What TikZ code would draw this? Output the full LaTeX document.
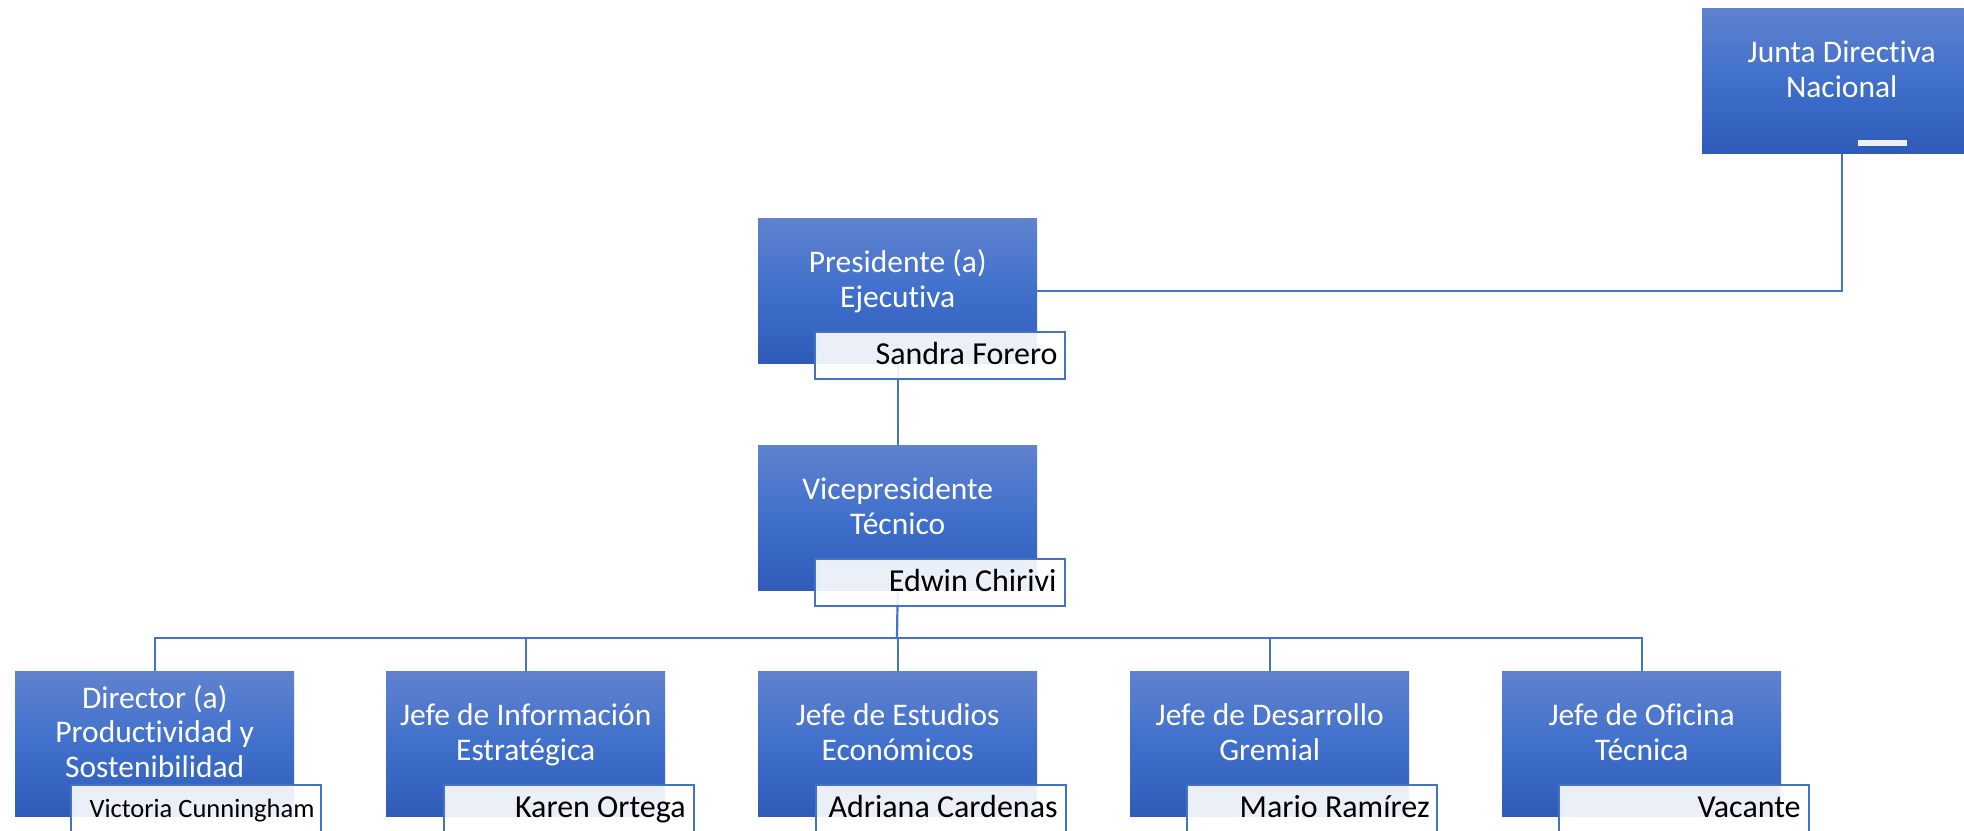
\documentclass[tikz,border=0pt]{standalone}
\usepackage{fontspec}
\setmainfont{Carlito}[Ligatures={NoCommon}]
\usetikzlibrary{calc}
\definecolor{btop}{RGB}{96,130,206}
\definecolor{bmid}{RGB}{64,112,204}
\definecolor{bbot}{RGB}{47,91,184}
\definecolor{lnc}{RGB}{68,114,196}
\tikzset{
  mainbox/.style={rectangle, draw=none, top color=btop, bottom color=bbot, middle color=bmid,
    minimum width=279pt, minimum height=145pt, inner sep=0pt, anchor=north west},
  namebox/.style={rectangle, draw=lnc, line width=1.8pt, fill=white, fill opacity=0.9,
    minimum width=250pt, minimum height=47pt, inner sep=0pt, anchor=north west},
  boxtext/.style={text=white, align=center, font=\fontsize{31.5pt}{34.5pt}\selectfont, anchor=base, inner sep=0pt},
  nametext/.style={text=black, font=\fontsize{32pt}{36pt}\selectfont, anchor=base east, inner sep=0pt},
  conn/.style={draw=lnc, line width=2.2pt},
}
\begin{document}
\begin{tikzpicture}[x=1pt,y=-1pt]
\useasboundingbox (0,0) rectangle (1964,830);
\clip (0,0) rectangle (1964,830);
% coordinates of boxes
\coordinate (jpos) at (1702,8);
\coordinate (ppos) at (758,218);
\coordinate (vpos) at (758,445);
\coordinate (c1pos) at (15,671);
\coordinate (c2pos) at (386,671);
\coordinate (c3pos) at (758,671);
\coordinate (c4pos) at (1130,671);
\coordinate (c5pos) at (1502,671);
% main boxes
\node[mainbox] (j) at (jpos) {};
\node[mainbox] (p) at (ppos) {};
\node[mainbox] (v) at (vpos) {};
\node[mainbox] (c1) at (c1pos) {};
\node[mainbox] (c2) at (c2pos) {};
\node[mainbox] (c3) at (c3pos) {};
\node[mainbox] (c4) at (c4pos) {};
\node[mainbox] (c5) at (c5pos) {};
% connectors
\coordinate (bus) at (897,638);
\draw[conn] (j.south) |- (p.east);
\draw[conn] (p.south) -- (v.north);
\draw[conn] (v.south) -- (bus);
\foreach \c in {c1,c2,c3,c4,c5} { \draw[conn] (bus) -| (\c.north); }
% main texts (anchor = baseline of last line)
\node[boxtext] (jt) at ($(j.north)+(0,89)$) {Junta Directiva\\Nacional};
\node[boxtext] (pt) at ($(p.north)+(0,89)$) {Presidente (a)\\Ejecutiva};
\node[boxtext] (vt) at ($(v.north)+(0,89)$) {Vicepresidente\\Técnico};
\node[boxtext] (c1t) at ($(c1.north)+(0,106)$) {Director (a)\\Productividad y\\Sostenibilidad};
\node[boxtext] (c2t) at ($(c2.north)+(0,89)$) {Jefe de Información\\Estratégica};
\node[boxtext] (c3t) at ($(c3.north)+(0,89)$) {Jefe de Estudios\\Económicos};
\node[boxtext] (c4t) at ($(c4.north)+(0,89)$) {Jefe de Desarrollo\\Gremial};
\node[boxtext] (c5t) at ($(c5.north)+(0,89)$) {Jefe de Oficina\\Técnica};
% name boxes
\node[rectangle, fill=white, fill opacity=0.9, draw=none, minimum width=49pt, minimum height=6pt, inner sep=0pt, anchor=north west] (jn) at (1858,140) {};
\node[namebox] (pn) at ($(p.south west)+(56,-32)$) {};
\node[namebox] (vn) at ($(v.south west)+(56,-32)$) {};
\node[namebox] (c1n) at ($(c1.south west)+(55,-32)$) {};
\node[namebox] (c2n) at ($(c2.south west)+(57,-32)$) {};
\node[namebox] (c3n) at ($(c3.south west)+(57,-32)$) {};
\node[namebox] (c4n) at ($(c4.south west)+(56,-32)$) {};
\node[namebox] (c5n) at ($(c5.south west)+(56,-32)$) {};
% names
\node[nametext] at ($(pn.north east)+(-8,33)$) {Sandra Forero};
\node[nametext] at ($(vn.north east)+(-9,33)$) {Edwin Chirivi};
\node[nametext, font=\fontsize{26.5pt}{30pt}\selectfont] at ($(c1n.north east)+(-7,33)$) {Victoria Cunningham};
\node[nametext] at ($(c2n.north east)+(-9,33)$) {Karen Ortega};
\node[nametext] at ($(c3n.north east)+(-9,33)$) {Adriana Cardenas};
\node[nametext] at ($(c4n.north east)+(-8,33)$) {Mario Ramírez};
\node[nametext] at ($(c5n.north east)+(-9,33)$) {Vacante};
\end{tikzpicture}
\end{document}
